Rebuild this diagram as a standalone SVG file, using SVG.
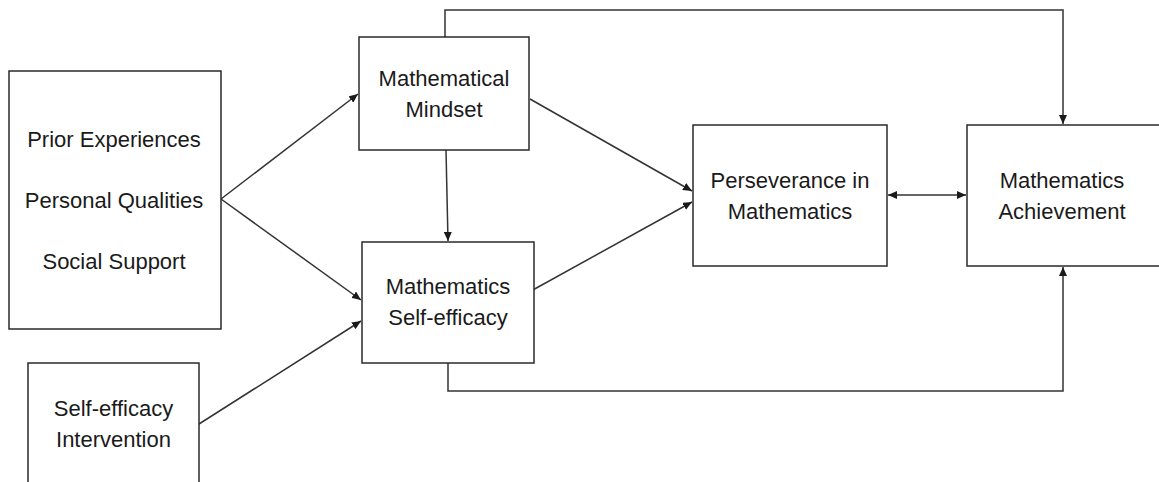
<svg xmlns="http://www.w3.org/2000/svg" width="1159" height="482" viewBox="0 0 1159 482">
<style>
.box{fill:#fff;stroke:#2a2a2a;stroke-width:1.5}
.lbl{font-family:"Liberation Sans",Arial,sans-serif;font-size:22px;fill:#1a1a1a;text-anchor:middle}
.con{fill:none;stroke:#333;stroke-width:1.5}
</style>
<defs>
<marker id="ah" markerUnits="userSpaceOnUse" markerWidth="10" markerHeight="8" refX="9" refY="4" orient="auto-start-reverse">
<path d="M0,0 L9,4 L0,8 Z" fill="#1a1a1a"/>
</marker>
</defs>
<rect width="1159" height="482" fill="#fff"/>
<g id="connectors">
<path class="con" d="M221,199 L358,94" marker-end="url(#ah)"/>
<path class="con" d="M221,199 L361,300" marker-end="url(#ah)"/>
<path class="con" d="M199,424 L361,321" marker-end="url(#ah)"/>
<path class="con" d="M446,150 L448,241" marker-end="url(#ah)"/>
<path class="con" d="M530,99 L692,191" marker-end="url(#ah)"/>
<path class="con" d="M531,291 L692,202" marker-end="url(#ah)"/>
<path class="con" d="M888,195 L966,195" marker-start="url(#ah)" marker-end="url(#ah)"/>
<path class="con" d="M445,37 L445,10 L1063,10 L1063,124" marker-end="url(#ah)"/>
<path class="con" d="M448,363 L448,391 L1063,391 L1063,267" marker-end="url(#ah)"/>
</g>
<g id="n-left">
<rect class="box" x="9" y="71" width="212" height="258"/>
<text class="lbl" x="114" y="147">Prior Experiences</text>
<text class="lbl" x="114" y="208">Personal Qualities</text>
<text class="lbl" x="114" y="269">Social Support</text>
</g>
<g id="n-intervention">
<rect class="box" x="28" y="363" width="171" height="130"/>
<text class="lbl" x="113.5" y="416">Self-efficacy</text>
<text class="lbl" x="113.5" y="447">Intervention</text>
</g>
<g id="n-mindset">
<rect class="box" x="359" y="37" width="170" height="113"/>
<text class="lbl" x="444" y="86">Mathematical</text>
<text class="lbl" x="444" y="117">Mindset</text>
</g>
<g id="n-selfefficacy">
<rect class="box" x="362" y="242" width="172" height="121"/>
<text class="lbl" x="448" y="294">Mathematics</text>
<text class="lbl" x="448" y="325">Self-efficacy</text>
</g>
<g id="n-perseverance">
<rect class="box" x="693" y="125" width="194" height="141"/>
<text class="lbl" x="790" y="188">Perseverance in</text>
<text class="lbl" x="790" y="219">Mathematics</text>
</g>
<g id="n-achievement">
<rect class="box" x="967" y="125" width="210" height="141"/>
<text class="lbl" x="1062" y="188">Mathematics</text>
<text class="lbl" x="1062" y="219">Achievement</text>
</g>
</svg>
